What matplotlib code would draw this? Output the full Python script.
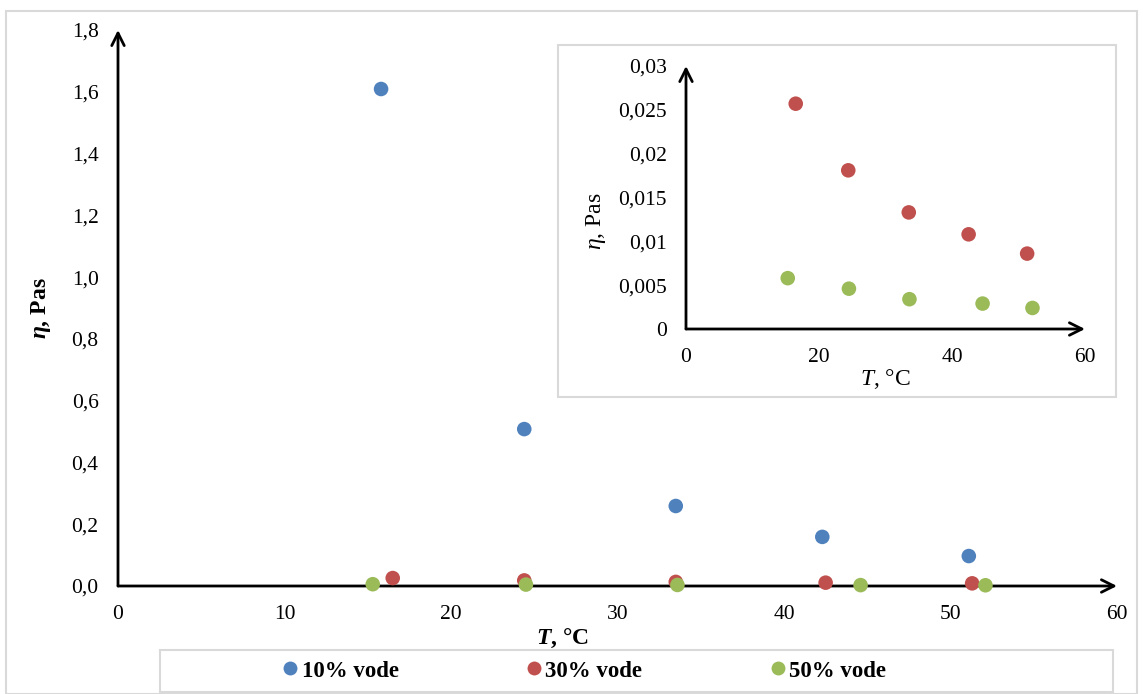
import matplotlib
matplotlib.use('Agg')
import matplotlib.pyplot as plt
from matplotlib.patches import Rectangle
from matplotlib.lines import Line2D
from matplotlib.ticker import FuncFormatter, FixedLocator

# temperature (°C) and viscosity (Pa·s)
t_10 = [15.8, 24.4, 33.5, 42.3, 51.1]
eta_10 = [1.609, 0.508, 0.259, 0.159, 0.097]
t_30 = [16.5, 24.4, 33.5, 42.5, 51.3]
eta_30 = [0.0257, 0.0181, 0.0133, 0.0108, 0.0086]
t_50 = [15.3, 24.5, 33.6, 44.6, 52.1]
eta_50 = [0.0058, 0.0046, 0.0034, 0.0029, 0.0024]

labels = ['10% vode', '30% vode', '50% vode']
colors = ['#4F81BD', '#C0504D', '#9BBB59']

main_xticks = [0, 10, 20, 30, 40, 50, 60]
main_yticks = [0, 0.2, 0.4, 0.6, 0.8, 1.0, 1.2, 1.4, 1.6, 1.8]
inset_xticks = [0, 20, 40, 60]
inset_yticks = [0, 0.005, 0.01, 0.015, 0.02, 0.025, 0.03]

plt.rcParams['font.family'] = 'Liberation Serif'
plt.rcParams['mathtext.fontset'] = 'custom'
plt.rcParams['mathtext.rm'] = 'Liberation Serif'
plt.rcParams['mathtext.it'] = 'Liberation Serif:italic'
plt.rcParams['mathtext.bf'] = 'Liberation Serif:bold'
plt.rcParams['mathtext.bfit'] = 'Liberation Serif:bold:italic'

W, H = 1143, 694
fig = plt.figure(figsize=(W / 100, H / 100), dpi=100)


def arrows(ax):
    style = dict(arrowstyle='->,head_length=0.9,head_width=0.45', lw=2,
                 color='black', shrinkA=0, shrinkB=0)
    ax.annotate('', xy=(0, 1), xytext=(0, 0), xycoords='axes fraction',
                arrowprops=style, zorder=2)
    ax.annotate('', xy=(1, 0), xytext=(0, 0), xycoords='axes fraction',
                arrowprops=style, zorder=2)


def style_axes(ax, fs, pad):
    for s in ax.spines.values():
        s.set_visible(False)
    ax.tick_params(length=0, labelsize=fs, pad=pad)
    ax.patch.set_alpha(0)


def comma(fmt):
    return FuncFormatter(lambda v, p: (fmt % v).replace('.', ','))


# outer border
fig.patches.append(Rectangle((6 / W, 0), 1131 / W, 683 / H, transform=fig.transFigure,
                             fill=False, edgecolor='#d9d9d9', lw=1.5, zorder=0))

# main chart
ax = fig.add_axes([118 / W, 1 - 586 / H, 999 / W, 556 / H])
style_axes(ax, 15.5, 14)
ax.set_xlim(0, 60)
ax.set_ylim(0, 1.8)
ax.xaxis.set_major_locator(FixedLocator(main_xticks))
ax.yaxis.set_major_locator(FixedLocator(main_yticks))
ax.yaxis.set_major_formatter(comma('%.1f'))
arrows(ax)
for x, y, c in zip([t_10, t_30, t_50], [eta_10, eta_30, eta_50], colors):
    ax.scatter(x, y, s=110, color=c, edgecolors='none', zorder=3, clip_on=False)
ax.text(-0.077, 0.5, r'$\mathbfit{\eta}$, Pas', transform=ax.transAxes, rotation=90,
        ha='center', va='center', fontsize=17, fontweight='bold')
ax.text(0.445, -0.095, r'$\mathbfit{T}$, °C', transform=ax.transAxes,
        ha='center', va='center', fontsize=17, fontweight='bold')

# inset box
fig.patches.append(Rectangle((558 / W, 1 - 397 / H), 558 / W, 352 / H, transform=fig.transFigure,
                             facecolor='white', edgecolor='#d9d9d9', lw=1.5, zorder=1))

ins = fig.add_axes([686 / W, 1 - 329 / H, 399 / W, 263 / H], zorder=2)
style_axes(ins, 15.5, 14)
ins.set_xlim(0, 60)
ins.set_ylim(0, 0.03)
ins.xaxis.set_major_locator(FixedLocator(inset_xticks))
ins.yaxis.set_major_locator(FixedLocator(inset_yticks))
ins.yaxis.set_major_formatter(comma('%g'))
arrows(ins)
for x, y, c in zip([t_30, t_50], [eta_30, eta_50], colors[1:]):
    ins.scatter(x, y, s=110, color=c, edgecolors='none', zorder=3, clip_on=False)
ins.text(-0.225, 0.41, r'$\eta$, Pas', transform=ins.transAxes, rotation=90,
         ha='center', va='center', fontsize=17)
ins.text(0.5, -0.19, r'$T$, °C', transform=ins.transAxes,
         ha='center', va='center', fontsize=17)

# legend
fig.patches.append(Rectangle((160 / W, 1 - 692 / H), 953 / W, 42 / H, transform=fig.transFigure,
                             fill=False, edgecolor='#d9d9d9', lw=1.5, zorder=1))
handles = [Line2D([], [], ls='none', marker='o', ms=10, color=c, mec='none') for c in colors]
fig.legend(handles, labels, loc='center left', bbox_to_anchor=(272 / W, 1 - 671 / H),
           ncol=3, frameon=False, prop={'weight': 'bold', 'size': 16.5},
           handlelength=0.8, handletextpad=0.1, columnspacing=5.5, borderaxespad=0)

fig.savefig('out.png', dpi=100)
